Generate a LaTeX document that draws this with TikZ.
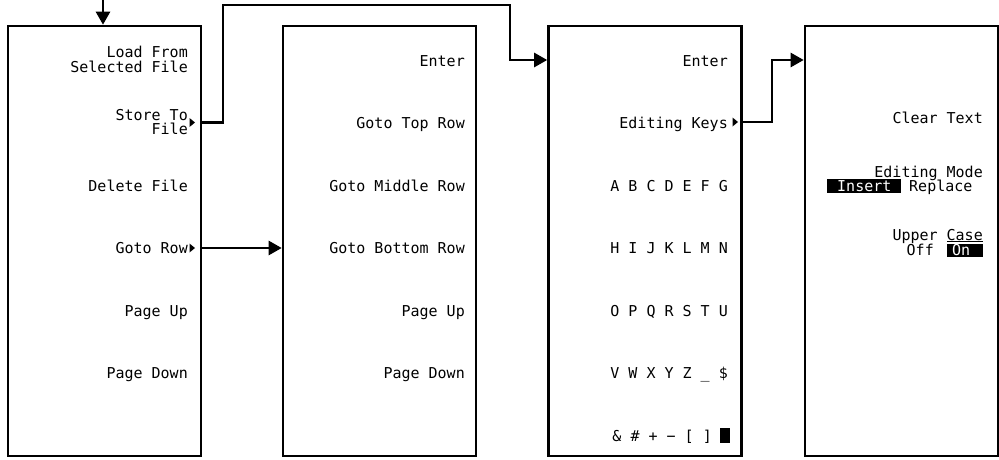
\documentclass[tikz,border=0pt]{standalone}
\usepackage{fontspec}
\newfontfamily\lcd{DejaVu Sans Mono}
\usetikzlibrary{arrows.meta}
\begin{document}
\begin{tikzpicture}[x=1pt,y=-1pt,
  menu/.style={draw, line width=2.6pt, minimum width=193pt, minimum height=430pt, inner sep=0pt},
  lbl/.style={anchor=base east, inner sep=0pt, font=\lcd\fontsize{15}{15}\selectfont},
  lbll/.style={anchor=base west, inner sep=0pt, font=\lcd\fontsize{15}{15}\selectfont},
  conn/.style={line width=2.6pt},
  arr/.style={conn, -{Triangle[length=13pt,width=14pt]}},
  softkey/.style={fill=black},
  hilite/.style={fill=black}
]
\useasboundingbox (0,0) rectangle (999,459);

% menu boxes
\node[menu] (b1) at (104.5,241) {};
\node[menu] (b2) at (379.5,241) {};
\node[menu] (b3) at (645,241) {};
\node[menu] (b4) at (901.5,241) {};

% box 1
\node[lbl] (l1a) at (188,57) {Load From};
\node[lbl] (l1b) at (188,72) {Selected File};
\node[lbl] (l2a) at (188,120) {Store To};
\node[lbl] (l2b) at (188,134) {File};
\node[lbl] (l3) at (188,191) {Delete File};
\node[lbl] (l4) at (188,253.5) {Goto Row};
\node[lbl] (l5) at (188,316) {Page Up};
\node[lbl] (l6) at (188,378.5) {Page Down};
\fill[softkey] (189.5,118) -- (195,122.5) -- (189.5,127) -- cycle;
\fill[softkey] (189.5,243.5) -- (195,248) -- (189.5,252.5) -- cycle;

% box 2
\node[lbl] (m1) at (465,66) {Enter};
\node[lbl] (m2) at (465,128.5) {Goto Top Row};
\node[lbl] (m3) at (465,191) {Goto Middle Row};
\node[lbl] (m4) at (465,253.5) {Goto Bottom Row};
\node[lbl] (m5) at (465,316) {Page Up};
\node[lbl] (m6) at (465,378.5) {Page Down};

% box 3
\node[lbl] (n1) at (728,66) {Enter};
\node[lbl] (n2) at (728,128.5) {Editing Keys};
\node[lbl] (n3) at (728,191) {A B C D E F G};
\node[lbl] (n4) at (728,253.5) {H I J K L M N};
\node[lbl] (n5) at (728,316) {O P Q R S T U};
\node[lbl] (n6) at (728,378.5) {V W X Y Z \_ \$};
\node[lbl] (n7) at (712,441) {\& \# + − [ ]};
\fill (720,428) rectangle (730,443);
\fill[softkey] (732.5,117.5) -- (738,122) -- (732.5,126.5) -- cycle;

% box 4
\node[lbl] (p1) at (983,123) {Clear Text};
\node[lbl] (p2) at (983,177) {Editing Mode};
\fill[hilite] (827,179) rectangle (901,193);
\node[lbll,text=white] (p3) at (837,191) {Insert};
\node[lbll] (p4) at (909,191) {Replace};
\node[lbl] (p5) at (983,240) {Upper Case};
\draw[line width=1pt] (947,241.5) -- (983,241.5);
\node[lbl] (p6) at (934,255) {Off};
\fill[hilite] (947,244) rectangle (983,257);
\node[lbll,text=white] (p7) at (952,255) {On};

% connectors
\coordinate (top) at (103,0);
\draw[arr] (top) -- (top |- b1.north);

\coordinate (s1) at (223,122.5);
\coordinate (s2) at (223,5);
\coordinate (s3) at (510,5);
\coordinate (s4) at (510,60);
\draw[arr] (b1.east |- s1) -- (s1) -- (s2) -- (s3) -- (s4) -- (b3.west |- s4);

\coordinate (g1) at (0,248);
\draw[arr] (b1.east |- g1) -- (b2.west |- g1);

\coordinate (e1) at (772,122);
\coordinate (e2) at (772,60);
\draw[arr] (b3.east |- e1) -- (e1) -- (e2) -- (b4.west |- e2);
\end{tikzpicture}
\end{document}
